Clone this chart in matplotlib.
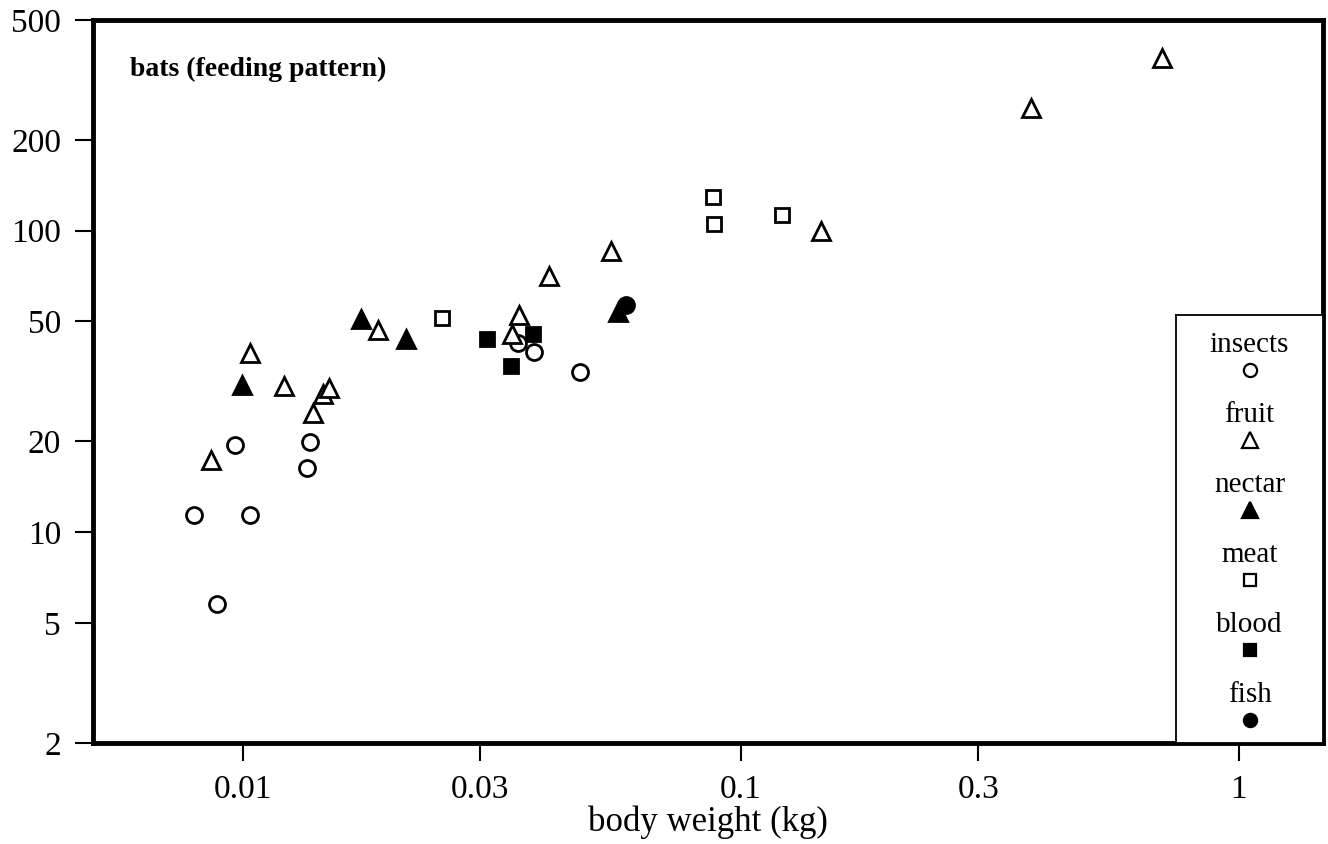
import numpy as np
import matplotlib
matplotlib.use("Agg")
import matplotlib.pyplot as plt

plt.rcParams['font.family'] = ['Liberation Serif', 'DejaVu Serif']

# body weight (kg) and value, per feeding pattern
insects_x = [0.00797, 0.00887, 0.00964, 0.01033, 0.01345, 0.01363, 0.0357, 0.0384, 0.0475]
insects_y = [11.4, 5.78, 19.5, 11.4, 16.3, 19.9, 42.4, 39.6, 34.0]

fruit_x = [0.00862, 0.01033, 0.01209, 0.01382, 0.01448, 0.01488, 0.01867,
           0.0347, 0.0358, 0.0412, 0.0548, 0.1447, 0.382, 0.700]
fruit_y = [17.4, 39.3, 30.6, 24.9, 28.7, 30.1, 46.9,
           45.5, 52.6, 70.8, 85.7, 99.8, 255, 374]

nectar_x = [0.00996, 0.01726, 0.02125, 0.0566]
nectar_y = [30.8, 50.9, 43.8, 53.8]

meat_x = [0.0251, 0.0879, 0.0883, 0.1208]
meat_y = [51.4, 129, 105, 113]

blood_x = [0.0309, 0.0345, 0.0382]
blood_y = [43.8, 35.6, 45.5]

fish_x = [0.0588]
fish_y = [56.7]

categories = ['insects', 'fruit', 'nectar', 'meat', 'blood', 'fish']
xs = [insects_x, fruit_x, nectar_x, meat_x, blood_x, fish_x]
ys = [insects_y, fruit_y, nectar_y, meat_y, blood_y, fish_y]

x_ticks = [0.01, 0.03, 0.1, 0.3, 1]
x_ticklabels = ['0.01', '0.03', '0.1', '0.3', '1']
y_ticks = [2, 5, 10, 20, 50, 100, 200, 500]

# marker style per category: (marker, filled, size)
styles = {
    'insects': ('o', False, 11.5),
    'fruit': ('^', False, 13),
    'nectar': ('^', True, 13),
    'meat': ('s', False, 10),
    'blood': ('s', True, 10.5),
    'fish': ('o', True, 11.5),
}

fig = plt.figure(figsize=(13.28, 8.44), dpi=100)
ax = fig.add_axes([0.070, 0.1197, 0.926, 0.8566])

for cat, x, y in zip(categories, xs, ys):
    m, filled, ms = styles[cat]
    ax.plot(x, y, linestyle='none', marker=m, markersize=ms,
            markerfacecolor='black' if filled else 'white',
            markeredgecolor='black', markeredgewidth=2.0)

ax.set_xscale('log')
ax.set_yscale('log')
ax.set_xlim(0.005, 1.475)
ax.set_ylim(2, 500)
ax.minorticks_off()
ax.set_xticks(x_ticks)
ax.set_xticklabels(x_ticklabels)
ax.set_yticks(y_ticks)
ax.set_yticklabels([str(v) for v in y_ticks])
ax.tick_params(direction='out', length=13, width=1.5, pad=10, labelsize=24)
for s in ax.spines.values():
    s.set_linewidth(3.5)

ax.set_xlabel('body weight (kg)', fontsize=25, labelpad=0)
ax.text(0.030, 0.931, 'bats (feeding pattern)', transform=ax.transAxes,
        fontsize=20, fontweight='bold', ha='left', va='center')

# legend box: label above its marker
leg = ax.inset_axes([0.881, 0.0, 0.119, 0.592])
leg.set_xlim(0, 1)
leg.set_ylim(-5.514, 0.6)
leg.set_xticks([])
leg.set_yticks([])
for s in leg.spines.values():
    s.set_linewidth(1.3)
for i, cat in enumerate(categories):
    m, filled, ms = styles[cat]
    leg.text(0.5, -i + 0.17, cat, fontsize=21, ha='center', va='center')
    leg.plot(0.5, -i - 0.19, linestyle='none', marker=m, markersize=ms - 2,
             markerfacecolor='black' if filled else 'white',
             markeredgecolor='black', markeredgewidth=1.6)

fig.savefig('out.png', dpi=100)
